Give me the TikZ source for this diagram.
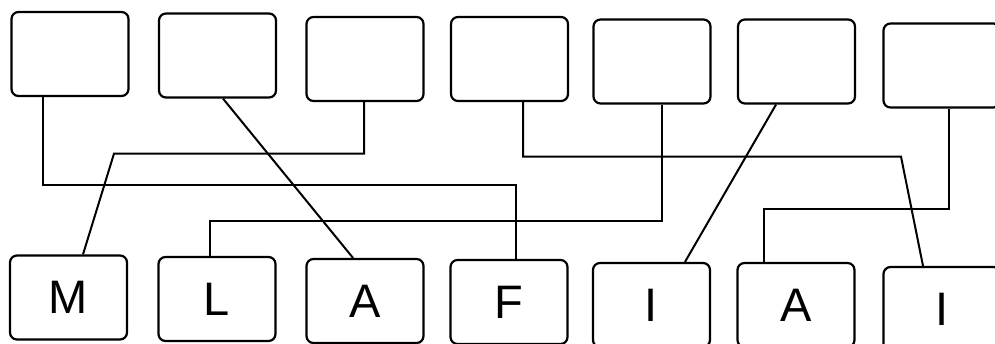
\documentclass[tikz,border=0pt]{standalone}
\usepackage{fontspec}
\setmainfont{Liberation Sans}
\usetikzlibrary{positioning}

\begin{document}
\begin{tikzpicture}[x=1pt, y=-1pt,
    card/.style={draw, line width=2.2pt, rounded corners=7pt,
      minimum width=117pt, minimum height=84pt, inner sep=0pt,
      font=\fontsize{47}{50}\selectfont},
    wire/.style={line width=2pt, line join=miter}]
  \useasboundingbox (0,0) rectangle (995,343);

  % top row of empty cards
  \foreach \n/\x/\y in {t1/70/54, t2/217.5/55.5, t3/365/59, t4/509.5/59,
      t5/652/61.5, t6/796.5/61.5, t7/942/65.5}
    \node[card] (\n) at (\x,\y) {};

  % bottom row of letters
  \foreach \n/\x/\y/\c in {b1/68.5/297.5/M, b2/217/299/L, b3/365/301/A,
      b4/509/302/F, b5/651.5/305/I, b6/796/305/A, b7/942/309/I}
    \node[card] (\n) at (\x,\y) {\c};

  % connectors
  \draw[wire] ([xshift=-27pt]t1.south) -- ++(0,87.5) -| ([xshift=7pt]b4.north);
  \draw[wire] ([xshift=5.5pt]t2.south) -- ([xshift=-12pt]b3.north);
  \draw[wire] ([xshift=-1pt]t3.south) -- ++(0,51.5) -- ++(-250,0)
    -- ([xshift=14.5pt]b1.north);
  \draw[wire] ([xshift=13.5pt]t4.south) -- ++(0,54.5) -- ++(378,0)
    -- ([xshift=-19pt]b7.north);
  \draw[wire] ([xshift=10pt]t5.south) -- ++(0,116) -| ([xshift=-7pt]b2.north);
  \draw[wire] ([xshift=-20.5pt]t6.south) -- ([xshift=33.5pt]b5.north);
  \draw[wire] ([xshift=7pt]t7.south) -- ++(0,100) -| ([xshift=-32pt]b6.north);
\end{tikzpicture}
\end{document}
